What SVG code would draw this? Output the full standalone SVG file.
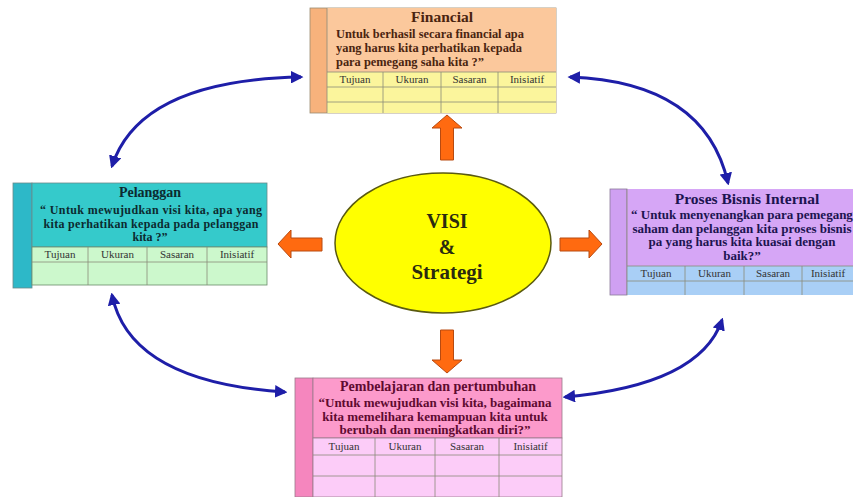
<svg xmlns="http://www.w3.org/2000/svg" width="855" height="497" viewBox="0 0 855 497">
<defs>
<style>
text{font-family:"Liberation Serif","Times New Roman",serif;}
.t{font-weight:bold;font-size:14px;text-anchor:middle;}
.tl{font-size:15.5px;}
.q{font-weight:bold;font-size:13px;}
.qf{font-size:12.4px;}
.qp{font-size:12px;}
.c{text-anchor:middle;}
.lab{font-size:11px;text-anchor:middle;fill:#333;}
.grid{fill:none;stroke:#8a8a7a;stroke-width:0.8;}
.oarrow{fill:#FF6A10;stroke:#B84A10;stroke-width:1;}
.blue{fill:none;stroke:#1E1EA8;stroke-width:3;marker-start:url(#ah);marker-end:url(#ah);}
</style>
<marker id="ah" viewBox="0 0 10 10" refX="8" refY="5" markerWidth="4.2" markerHeight="4.2" orient="auto-start-reverse" markerUnits="strokeWidth">
<path d="M0,0 L10,5 L0,10 Z" fill="#1E1EA8"/>
</marker>
</defs>
<rect width="855" height="497" fill="#ffffff"/>

<g id="connectors">
<path class="blue" d="M112,166 Q140,80 301,77"/>
<path class="blue" d="M570,77 Q705,82 728,183"/>
<path class="blue" d="M112,295 Q130,382 285,392"/>
<path class="blue" d="M565,397 Q700,385 722,320"/>
<polygon class="oarrow" points="447,115 462,128 453.5,128 453.5,160 440.5,160 440.5,128 432,128"/>
<polygon class="oarrow" points="447,373 462,360 453.5,360 453.5,330 440.5,330 440.5,360 432,360"/>
<polygon class="oarrow" points="278,244 291,230 291,238 322,238 322,251 291,251 291,258"/>
<polygon class="oarrow" points="602,244 589,230 589,238 560,238 560,251 589,251 589,258"/>
</g>

<g id="financial">
<rect x="310" y="8" width="246" height="105" fill="#F7B27C" stroke="#9a8a70" stroke-width="0.8"/>
<rect x="327" y="8" width="229" height="64" fill="#FBC89C"/>
<rect x="327" y="72" width="229" height="41" fill="#FBF59C"/>
<path class="grid" d="M327,8V113 M327,72H556 M327,87H556 M327,102H556 M383,72V113 M441,72V113 M498,72V113"/>
<text class="t tl" x="442" y="22" fill="#4A2410">Financial</text>
<g class="q qf" fill="#4A2410">
<text x="336" y="37.5">Untuk berhasil secara financial apa</text>
<text x="336" y="51.5">yang harus kita perhatikan kepada</text>
<text x="336" y="65.5">para pemegang saha kita ?”</text>
</g>
<text class="lab" x="355" y="83">Tujuan</text>
<text class="lab" x="412" y="83">Ukuran</text>
<text class="lab" x="469.5" y="83">Sasaran</text>
<text class="lab" x="527" y="83">Inisiatif</text>
</g>

<g id="pelanggan">
<rect x="13" y="183" width="19" height="105" fill="#2DB8C8" stroke="#6a8a8a" stroke-width="0.8"/>
<rect x="32" y="183" width="235" height="64" fill="#35CACB" stroke="#6a8a8a" stroke-width="0.8"/>
<rect x="32" y="247" width="235" height="38" fill="#CCF8CC" stroke="#6a8a6a" stroke-width="0.8"/>
<path class="grid" d="M32,262H267 M88,247V285 M147,247V285 M207,247V285"/>
<text class="t" x="150" y="197" fill="#0C2A30">Pelanggan</text>
<g class="q qp c" fill="#0C2A30">
<text x="151" y="214" textLength="222" lengthAdjust="spacing">“ Untuk mewujudkan visi kita, apa yang</text>
<text x="151" y="227.5" textLength="215" lengthAdjust="spacing">kita perhatikan kepada pada pelanggan</text>
<text x="150" y="241">kita ?”</text>
</g>
<text class="lab" x="60" y="258">Tujuan</text>
<text class="lab" x="117.5" y="258">Ukuran</text>
<text class="lab" x="177" y="258">Sasaran</text>
<text class="lab" x="237" y="258">Inisiatif</text>
</g>

<g id="proses">
<rect x="610" y="189" width="17" height="106" fill="#CFA0F2" stroke="#8a7a9a" stroke-width="0.8"/>
<rect x="627" y="189" width="226" height="77" fill="#D6A6F6"/>
<rect x="627" y="266" width="226" height="29" fill="#A9CFF6"/>
<path class="grid" d="M627,189V295 M627,266H853 M627,281H853 M685,266V295 M744,266V295 M802,266V295"/>
<text class="t tl" x="747" y="204" fill="#1C1450">Proses Bisnis Internal</text>
<g class="q c" fill="#1C1450">
<text x="742" y="219">“ Untuk  menyenangkan para pemegang</text>
<text x="742" y="232.5">saham dan pelanggan kita proses bisnis</text>
<text x="742" y="246">pa yang harus kita kuasai dengan</text>
<text x="742" y="259.5">baik?”</text>
</g>
<text class="lab" x="656" y="277">Tujuan</text>
<text class="lab" x="714.5" y="277">Ukuran</text>
<text class="lab" x="773" y="277">Sasaran</text>
<text class="lab" x="828" y="277">Inisiatif</text>
</g>

<g id="pembelajaran">
<rect x="295" y="378" width="18" height="119" fill="#F586BE" stroke="#9a7a8a" stroke-width="0.8"/>
<rect x="313" y="378" width="249" height="60" fill="#FC9ACB" stroke="#9a7a8a" stroke-width="0.8"/>
<rect x="313" y="438" width="249" height="59" fill="#FCCCF8" stroke="#9a7a8a" stroke-width="0.8"/>
<path class="grid" d="M313,455H562 M313,476H562 M375,438V497 M435,438V497 M499,438V497"/>
<text class="t" x="438" y="391" fill="#5E0A30">Pembelajaran dan pertumbuhan</text>
<g class="q c" fill="#5E0A30">
<text x="435" y="407">“Untuk mewujudkan visi kita, bagaimana</text>
<text x="435" y="420.5">kita memelihara kemampuan kita untuk</text>
<text x="435" y="434">berubah dan meningkatkan diri?”</text>
</g>
<text class="lab" x="344" y="450">Tujuan</text>
<text class="lab" x="405" y="450">Ukuran</text>
<text class="lab" x="467" y="450">Sasaran</text>
<text class="lab" x="530.5" y="450">Inisiatif</text>
</g>

<g id="visi">
<ellipse cx="443" cy="243" rx="108" ry="70" fill="#FFFF00" stroke="#5A5A10" stroke-width="1.5"/>
<g font-weight="bold" font-size="20" text-anchor="middle" fill="#2A2A10">
<text x="447" y="228">VISI</text>
<text x="447" y="254">&amp;</text>
<text x="447" y="279" font-size="21">Strategi</text>
</g>
</g>
</svg>
